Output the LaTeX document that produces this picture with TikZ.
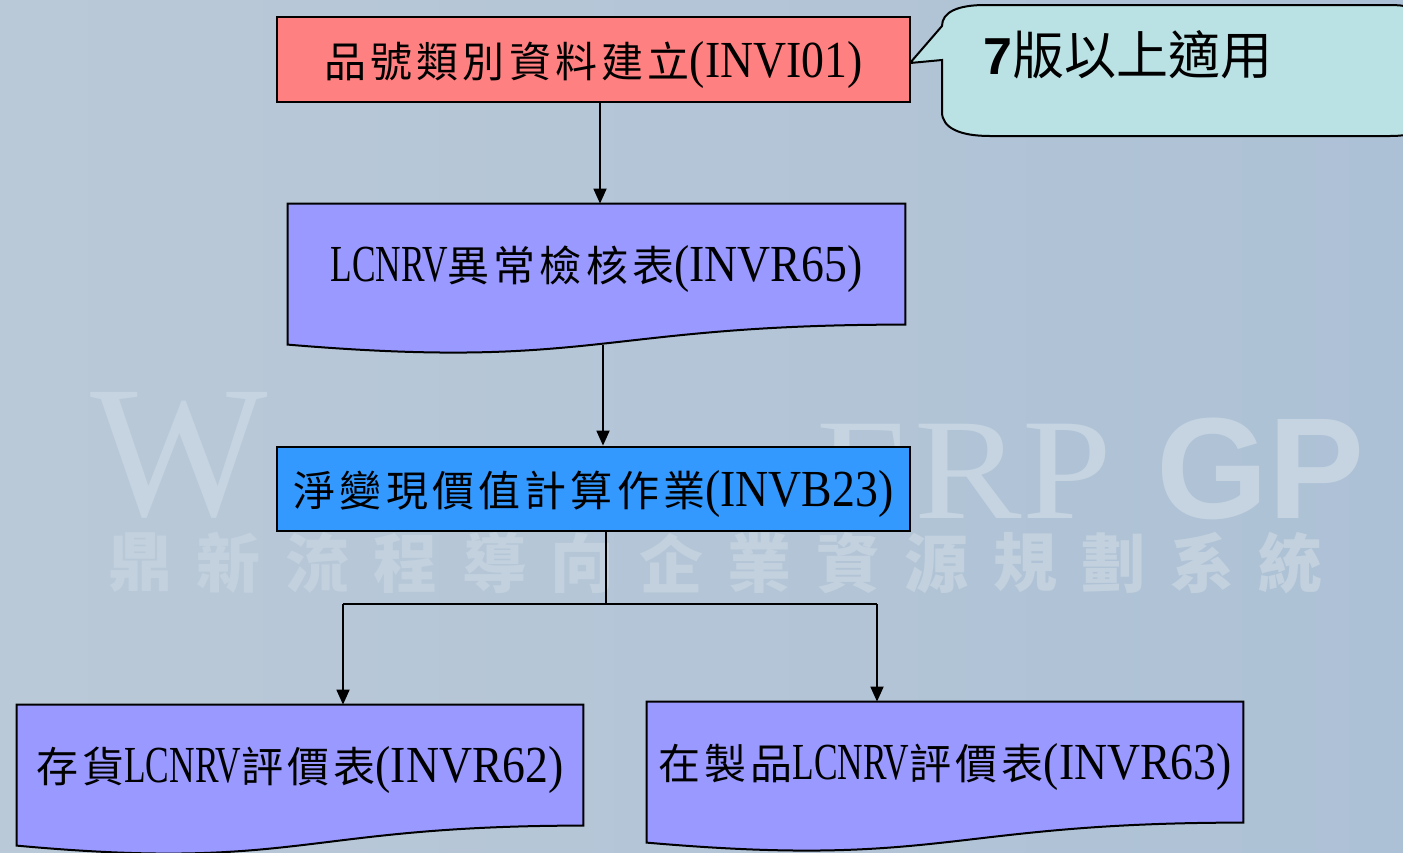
\documentclass[tikz,border=0pt]{standalone}
\usepackage{fontspec}
\setmainfont{Liberation Serif}[FakeStretch=0.88]
\newfontfamily\ltnarrow{Liberation Serif}[FakeStretch=0.68]
\newfontfamily\cjk{Noto Sans CJK TC}[LetterSpace=10]
\newfontfamily\cjkn{Noto Sans CJK TC}
\newfontfamily\wmserif{Liberation Serif}
\newfontfamily\wmwide{Liberation Serif}[FakeStretch=1.12]
\newfontfamily\arialf{Liberation Sans}
\usetikzlibrary{arrows.meta,calc}
\pgfdeclarelayer{bglayer}
\pgfdeclarelayer{shapelayer}
\pgfsetlayers{bglayer,shapelayer,main}

\definecolor{bgl}{HTML}{BAC9D7}
\definecolor{bgr}{HTML}{ADC1D6}
\definecolor{pinkc}{HTML}{FF8080}
\definecolor{purc}{HTML}{9999FF}
\definecolor{bluec}{HTML}{3399FF}
\definecolor{notec}{HTML}{BAE1E3}
\definecolor{wmc}{HTML}{C6D4E1}
\definecolor{wmzc}{HTML}{C3D1DE}

\newcommand\lt[1]{{\fontsize{26pt}{28pt}\selectfont #1}}
\newcommand\ltn[1]{{\ltnarrow\fontsize{26pt}{28pt}\selectfont #1}}
\newcommand\zh[1]{{\cjk\fontsize{21pt}{26pt}\selectfont #1}}
\newcommand\dn[1]{\raisebox{-2.5pt}[\height][\depth]{#1}}
\newcommand\docoutline[1]{%
  \draw[docshape] (#1.north west) -- (#1.north east)
    -- ($(#1.north east)+(0,121)$)
    .. controls ($(#1.north)+(0,121)$) and ($(#1.north)+(0,167)$) ..
    ($(#1.north west)+(0,141)$) -- cycle;}

\tikzset{
  boxtext/.style={inner sep=0pt, font=\fontsize{23pt}{26pt}\selectfont},
  flatbox/.style={boxtext, draw=black, line width=1.2pt},
  docshape/.style={draw=black, line width=1pt, fill=purc},
  conn/.style={draw=black, line width=0.9pt},
  arr/.style={conn, -{Triangle[length=7.5pt,width=6.5pt]}},
  wmlat/.style={inner sep=0pt, text=wmc, anchor=base west, text depth=0pt},
  wmzh/.style={inner sep=0pt, text=wmzc, font=\cjkn\bfseries\fontsize{32pt}{34pt}\selectfont},
  notebox/.style={draw=black, line width=1pt, fill=notec},
}

\begin{document}
\begin{tikzpicture}[x=0.5pt,y=-0.5pt]
\useasboundingbox (0,0) rectangle (1403,852);

% background and watermark
\begin{pgfonlayer}{bglayer}
  \shade[left color=bgl, right color=bgr] (0,0) rectangle (1403,852);
  \node[wmlat, font=\wmserif\fontsize{94pt}{100pt}\selectfont] (wmW) at (90,515) {W};
  \node[wmlat, font=\wmwide\fontsize{72pt}{76pt}\selectfont] (wmERP) at (816,518) {ERP};
  \node[wmlat, font=\arialf\bfseries\fontsize{72pt}{76pt}\selectfont] (wmGP) at (1156,518) {GP};
  \foreach \c [count=\i from 0] in {鼎,新,流,程,導,向,企,業,資,源,規,劃,系,統}
    \node[wmzh] (wm\i) at (140+\i*88.5,563) {\c};
\end{pgfonlayer}

% nodes
\node[flatbox, fill=pinkc, minimum width=316.5pt, minimum height=42.5pt]
  (b1) at (593.5,59.5) {\dn{\zh{品號類別資料建立}\lt{(INVI01)}}};
\node[boxtext, minimum width=308.5pt, minimum height=65pt]
  (b2) at (596.5,269) {\ltn{LCNRV}\zh{異常檢核表}\lt{(INVR65)}};
\node[flatbox, line width=1.4pt, fill=bluec, minimum width=316.5pt, minimum height=42pt]
  (b3) at (593.5,489) {\dn{\zh{淨變現價值計算作業}\lt{(INVB23)}}};
\node[boxtext, minimum width=283pt, minimum height=65pt]
  (b4) at (300,770) {\zh{存貨}\ltn{LCNRV}\zh{評價表}\lt{(INVR62)}};
\node[boxtext, minimum width=298pt, minimum height=65pt]
  (b5) at (945,767) {\zh{在製品}\ltn{LCNRV}\zh{評價表}\lt{(INVR63)}};
\node[inner sep=0pt, anchor=west, font=\fontsize{26pt}{28pt}\selectfont]
  (note) at (983,55) {{\arialf\bfseries 7}{\cjkn 版以上適用}};

% shapes behind the texts
\begin{pgfonlayer}{shapelayer}
  \docoutline{b2}
  \docoutline{b4}
  \docoutline{b5}
  \begin{scope}
    \clip (0,0) rectangle (1403,852);
    \draw[notebox] (910,63) -- (942,26)
      .. controls (942,12) and (958,5) .. (985,5) -- (1390,5)
      .. controls (1420,5) and (1430,15) .. (1430,40) -- (1430,105)
      .. controls (1430,130) and (1415,136) .. (1390,136) -- (990,136)
      .. controls (960,136) and (942,128) .. (942,112) -- (942,60) -- cycle;
  \end{scope}
\end{pgfonlayer}

% connectors
\draw[arr] ([xshift=3.25pt]b1.south) -- ([xshift=3.25pt]b1.south |- b2.north);
\coordinate (b2out) at (603,345);
\draw[arr] (b2out) -- (b2out |- b3.north);
\coordinate (j) at (606,604);
\coordinate (jl) at (343,604);
\coordinate (jr) at (877,604);
\draw[conn] (j |- b3.south) -- (j);
\draw[conn] (jl) -- (jr);
\draw[arr] (jl) -- (jl |- b4.north);
\draw[arr] (jr) -- (jr |- b5.north);
\end{tikzpicture}
\end{document}
